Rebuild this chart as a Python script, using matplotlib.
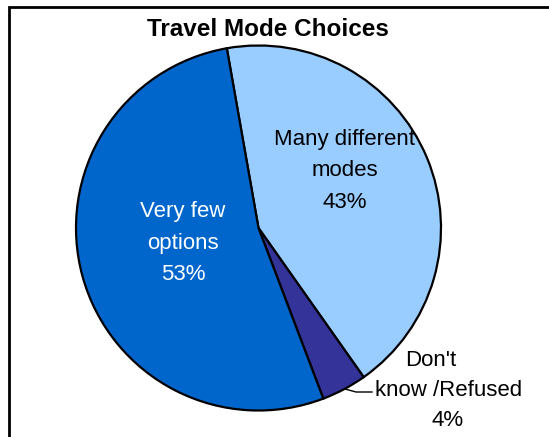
import matplotlib
matplotlib.use("Agg")
import matplotlib.pyplot as plt
from matplotlib.patches import Rectangle

plt.rcParams['font.family'] = ['Liberation Sans', 'DejaVu Sans']

title = "Travel Mode Choices"
categories = ["Many different\nmodes", "Don't\nknow /Refused", "Very few\noptions"]
values = [43, 4, 53]
colors = ["#99CCFF", "#333399", "#0066CC"]

W, H = 549, 437
fig = plt.figure(figsize=(W / 100, H / 100), dpi=100)
ax = fig.add_axes([0, 0, 1, 1])

cx, cy, r = 258.5, H - 228, 182.5
wedges, _ = ax.pie(values, colors=colors, startangle=100, counterclock=False,
                   center=(cx, cy), radius=r,
                   wedgeprops=dict(edgecolor="black", linewidth=1.6))
ax.set_xlim(0, W)
ax.set_ylim(0, H)
ax.set_aspect("auto")
ax.axis("off")

# border
fig.patches.append(Rectangle((9 / W, -0.1), 1.2, (H - 7) / H + 0.1, transform=fig.transFigure,
                             fill=False, edgecolor="black", linewidth=2))

ax.text(268, H - 30, title, ha="center", va="center", fontsize=17.5, fontweight="bold")

fs = 16
# Many different modes / Very few options: centred multi-line labels
label_pos = {0: (345, H - 171), 2: (183, H - 243)}
label_col = {0: "black", 2: "white"}
for i, (x, y) in label_pos.items():
    ax.text(x, y, f"{categories[i]}\n{values[i]}%", ha="center", va="center",
            multialignment="center", fontsize=fs, color=label_col[i], linespacing=1.65)

# Don't know / Refused label, lines placed as in the reference
dk_lines = categories[1].split("\n") + [f"{values[1]}%"]
dk_x = [431, 449, 448]
dk_y = [H - 360, H - 390, H - 420]
for t, x, y in zip(dk_lines, dk_x, dk_y):
    ax.text(x, y, t, ha="center", va="center", fontsize=fs, color="black")

# leader line
ax.plot([345, 356, 372], [H - 389, H - 392, H - 392], color="black", linewidth=1)

fig.savefig("out.png", dpi=100)
